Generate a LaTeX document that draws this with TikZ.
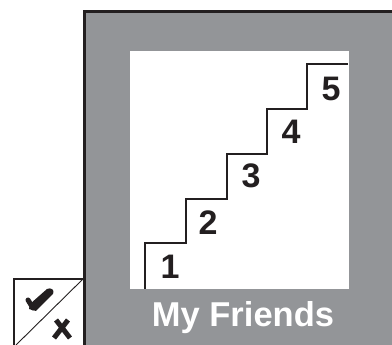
\documentclass[tikz,border=0pt]{standalone}
\usepackage{fontspec}
\setmainfont{Liberation Sans}
\definecolor{panelgray}{HTML}{939598}
\definecolor{ink}{HTML}{231F20}
\begin{document}
\begin{tikzpicture}[x=1pt,y=-1pt,
  digit/.style={anchor=base,font=\bfseries\fontsize{34}{34}\selectfont,text=ink,inner sep=0pt},
  stairline/.style={draw=ink,line width=2pt},
  title/.style={anchor=base,font=\bfseries\fontsize{34.5}{34.5}\selectfont,text=white,inner sep=0pt}]
\useasboundingbox (0,0) rectangle (392,345);
% gray panel
\fill[panelgray] (83,10) rectangle (392,345);
\draw[ink,line width=3pt] (84.5,345) -- (84.5,11.5) -- (392,11.5);
% white inner area
\fill[white] (130,51) rectangle (349,289);
% stairs
\draw[stairline] (145,289) -- (145,243) -- (186,243) -- (186,199) -- (227,199) -- (227,154)
  -- (267,154) -- (267,109) -- (307,109) -- (307,64) -- (348,64);
\node[digit] (d1) at (170,279) {1};
\node[digit] (d2) at (208,235) {2};
\node[digit] (d3) at (251,188) {3};
\node[digit] (d4) at (291,144) {4};
\node[digit] (d5) at (331,101) {5};
\node[title] (t) at (243,327) {My Friends};
% check box
\fill[white] (13,278) rectangle (83,345);
\draw[ink,line width=2pt] (14,346) -- (14,279) -- (83,279);
\draw[ink,line width=0.9pt] (16,345) -- (83,279);
\draw[ink,line width=5pt,line cap=round,line join=round] (28,300) -- (33,308);
\fill[ink] (29,309) -- (36,311) -- (53,294) .. controls (55,290) and (51,287) .. (47,289) -- (30,304) -- cycle;
\draw[ink,line width=5pt] (56,320) -- (70,338) (68,320) -- (54,338);
\end{tikzpicture}
\end{document}
